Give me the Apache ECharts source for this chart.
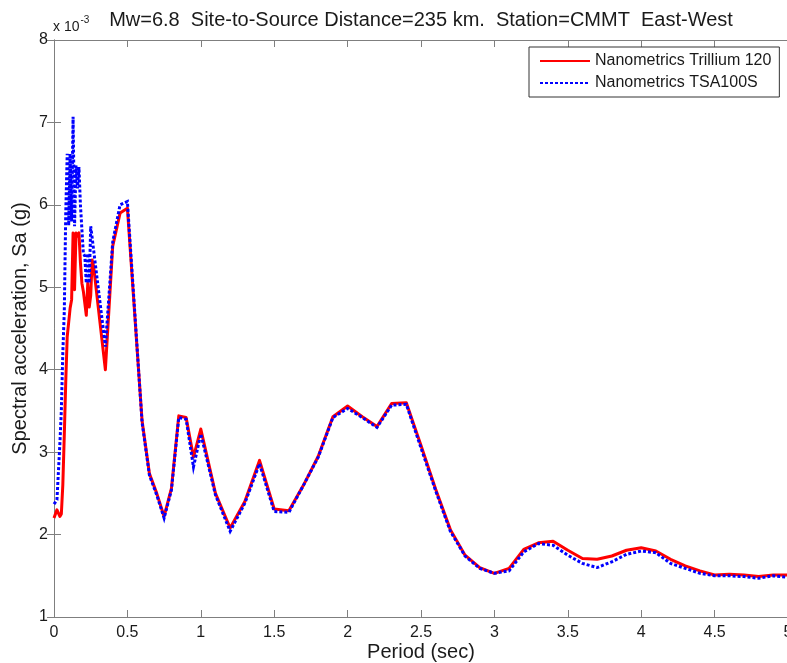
<!DOCTYPE html>
<html>
<head>
<meta charset="utf-8">
<script src="https://cdn.jsdelivr.net/npm/echarts@6/dist/echarts.min.js"></script>
<style>
  html, body { margin: 0; padding: 0; background: #fff; }
  #chart { width: 787px; height: 663px; }
</style>
</head>
<body>
<div id="chart"></div>
<script>
// Response spectra (5% damped), values in units of 1e-3 g
const periods = [
  0, 0.02, 0.04, 0.05, 0.06, 0.07, 0.08, 0.09, 0.10, 0.11, 0.12, 0.13, 0.14,
  0.15, 0.16, 0.17, 0.18, 0.19, 0.20, 0.21, 0.22, 0.23, 0.24, 0.25, 0.26, 0.27,
  0.35, 0.40, 0.45, 0.50,
  0.60, 0.65, 0.70, 0.75, 0.80, 0.85, 0.90, 0.95,
  1.0, 1.1, 1.2, 1.3, 1.4, 1.5, 1.6, 1.7, 1.8, 1.9,
  2.0, 2.1, 2.2, 2.3, 2.4, 2.5, 2.6, 2.7, 2.8, 2.9,
  3.0, 3.1, 3.2, 3.3, 3.4, 3.5, 3.6, 3.7, 3.8, 3.9,
  4.0, 4.1, 4.2, 4.3, 4.4, 4.5, 4.6, 4.7, 4.8, 4.9,
  5.0
];

const trillium120 = [
  2.20, 2.30, 2.22, 2.25, 2.60, 3.20, 3.85, 4.40, 4.40, 4.75, 4.85, 5.66, 4.97,
  5.66, 5.62, 5.66, 5.30, 5.05, 4.95, 4.93, 4.66, 5.05, 4.76, 4.90, 5.33, 5.25,
  4.00, 5.50, 5.90, 5.96,
  3.38, 2.74, 2.50, 2.22, 2.56, 3.44, 3.42, 2.94,
  3.28, 2.50, 2.08, 2.40, 2.90, 2.31, 2.29, 2.60, 2.95, 3.43,
  3.56, 3.43, 3.31, 3.59, 3.60, 3.08, 2.55, 2.06, 1.75, 1.60,
  1.53, 1.59, 1.82, 1.90, 1.92, 1.81, 1.71, 1.70, 1.74, 1.81,
  1.84, 1.80, 1.70, 1.62, 1.56, 1.51, 1.52, 1.51, 1.49, 1.51,
  1.51
];

const tsa100s = [
  2.37, 2.42, 3.10, 3.50, 4.20, 4.70, 5.90, 6.62, 5.75, 6.62, 5.80, 7.07, 5.74,
  6.48, 6.20, 6.46, 6.00, 5.70, 5.41, 5.38, 5.05, 5.41, 5.05, 5.74, 5.60, 5.45,
  4.28, 5.55, 6.00, 6.04,
  3.36, 2.72, 2.48, 2.20, 2.54, 3.42, 3.40, 2.82,
  3.22, 2.48, 2.04, 2.38, 2.86, 2.28, 2.27, 2.60, 2.94, 3.42,
  3.53, 3.42, 3.30, 3.57, 3.58, 3.05, 2.53, 2.04, 1.74, 1.59,
  1.53, 1.56, 1.79, 1.89, 1.87, 1.75, 1.65, 1.60, 1.67, 1.76,
  1.80, 1.78, 1.65, 1.59, 1.53, 1.50, 1.50, 1.49, 1.47, 1.50,
  1.48
];

const seriesNames = ['Nanometrics Trillium 120', 'Nanometrics TSA100S'];
const titleText = 'Mw=6.8  Site-to-Source Distance=235 km.  Station=CMMT  East-West';
const xName = 'Period (sec)';
const yName = 'Spectral acceleration, Sa (g)';

const FONT = '"Liberation Sans", Arial, Helvetica, sans-serif';
const AXIS_GRAY = '#7f7f7f';
const TEXT = '#1a1a1a';

const pairs = (xs, ys) => xs.map((x, i) => [x, ys[i]]);

const boxAxis = {
  axisLine: { show: true, lineStyle: { color: AXIS_GRAY, width: 1 } },
  axisTick: { show: true, inside: true, length: 7, lineStyle: { color: AXIS_GRAY, width: 1 } },
  splitLine: { show: false }
};

const chart = echarts.init(document.getElementById('chart'), null, { renderer: 'canvas' });

chart.setOption({
  animation: false,
  backgroundColor: '#ffffff',
  textStyle: { fontFamily: FONT },
  grid: {
    left: 54, top: 40, width: 734, height: 577,
    containLabel: false, outerBoundsMode: 'none'
  },
  xAxis: [
    Object.assign({}, boxAxis, {
      type: 'value', min: 0, max: 5, interval: 0.5, position: 'bottom',
      name: xName, nameLocation: 'middle', nameGap: 25, nameMoveOverlap: false,
      nameTextStyle: { fontSize: 20, color: TEXT, fontFamily: FONT },
      axisLabel: { show: true, margin: 8, fontSize: 16, color: TEXT, fontFamily: FONT,
                   showMinLabel: true, showMaxLabel: true, hideOverlap: false }
    }),
    Object.assign({}, boxAxis, {
      type: 'value', min: 0, max: 5, interval: 0.5, position: 'top',
      axisLabel: { show: false }
    })
  ],
  yAxis: [
    Object.assign({}, boxAxis, {
      type: 'value', min: 1, max: 8, interval: 1, position: 'left',
      name: yName, nameLocation: 'middle', nameGap: 24, nameRotate: 90,
      nameMoveOverlap: false,
      nameTextStyle: { fontSize: 20, color: TEXT, fontFamily: FONT },
      axisLabel: { show: true, margin: 6, fontSize: 16, color: TEXT, fontFamily: FONT }
    }),
    Object.assign({}, boxAxis, {
      type: 'value', min: 1, max: 8, interval: 1, position: 'right',
      axisLabel: { show: false }
    })
  ],
  legend: {
    show: true,
    orient: 'vertical',
    left: 529, top: 47,
    padding: [6, 8, 6, 10],
    itemWidth: 50, itemHeight: 14, itemGap: 6,
    backgroundColor: '#ffffff',
    borderColor: '#333333', borderWidth: 1,
    itemStyle: { opacity: 0 },
    textStyle: { fontSize: 16, color: TEXT, fontFamily: FONT },
    data: seriesNames
  },
  graphic: [
    {
      type: 'text', x: 421, y: 20,
      style: {
        text: titleText, font: '20px ' + FONT, fill: TEXT,
        align: 'center', verticalAlign: 'middle'
      }
    },
    {
      type: 'text', left: 53, top: 15,
      style: {
        text: '{b|x 10}{s|-3}',
        rich: {
          b: { fontSize: 14, fontFamily: FONT, fill: TEXT, padding: [8, 0, 0, 0] },
          s: { fontSize: 10, fontFamily: FONT, fill: TEXT, padding: [0, 0, 6, 1] }
        }
      }
    }
  ],
  series: [
    {
      name: seriesNames[0], type: 'line', xAxisIndex: 0, yAxisIndex: 0,
      data: pairs(periods, trillium120),
      symbol: 'none', showSymbol: false, smooth: false, z: 2,
      lineStyle: { color: '#ff0000', width: 3, type: 'solid', join: 'round' },
      itemStyle: { color: '#ff0000' }
    },
    {
      name: seriesNames[1], type: 'line', xAxisIndex: 0, yAxisIndex: 0,
      data: pairs(periods, tsa100s),
      symbol: 'none', showSymbol: false, smooth: false, z: 3,
      lineStyle: { color: '#0000ff', width: 3, type: [3, 2], join: 'miter' },
      itemStyle: { color: '#0000ff' }
    }
  ]
});
</script>
</body>
</html>
